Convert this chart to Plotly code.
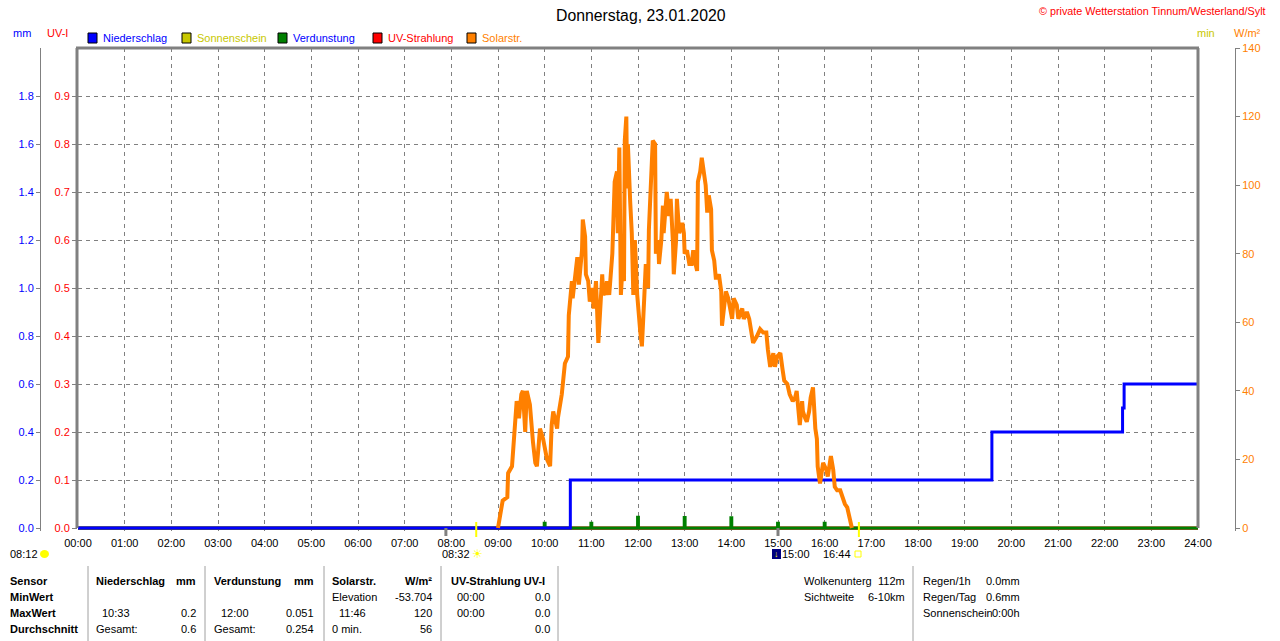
import plotly.graph_objects as go

W, H = 1280, 641
FONT = "Liberation Sans, Arial, sans-serif"

# x axis: minutes since midnight
hour_ticks = list(range(0, 1441, 60))
hour_labels = ["%02d:00" % (m // 60) for m in hour_ticks]

# Solarstrahlung (W/m²)
solar_min = [540, 543, 546, 552, 553, 558, 562, 564, 567, 570, 572, 575, 577, 581, 585, 588,
             590, 594, 598, 603, 607, 609, 611, 616, 617, 622, 626, 630, 631, 634, 635, 636,
             640, 642, 644, 648, 649, 652, 653, 656, 658, 661, 663, 666, 669, 671, 674, 675,
             678, 680, 683, 687, 688, 690, 693, 694, 696, 698, 701, 702, 703, 705, 706, 707,
             710, 712, 714, 716, 719, 720, 723, 725, 726, 728, 730, 733, 734, 737, 738, 739,
             742, 743, 746, 747, 750, 752, 753, 755, 757, 760, 762, 765, 766, 769, 770, 773,
             777, 779, 780, 783, 786, 789, 791, 793, 796, 797, 800, 802, 805, 807, 809, 811,
             814, 815, 818, 820, 822, 824, 827, 828, 831, 833, 836, 838, 841, 843, 847, 849,
             854, 856, 860, 863, 867, 868, 873, 877, 881, 885, 887, 890, 894, 896, 899, 903,
             906, 908, 912, 915, 919, 922, 924, 926, 928, 931, 932, 935, 937, 940, 942, 945,
             946, 948, 950, 951, 954, 957, 958, 962, 964, 968, 971, 973, 976, 980, 984, 986,
             989, 991, 994, 995]
solar_wm2 = [0, 5, 8, 9, 16, 18, 31, 37, 32, 39, 40, 28, 40, 36, 25, 19,
             18, 29, 26, 20, 18, 30, 34, 29, 32, 39, 48, 50, 62, 68, 72, 67,
             74, 79, 71, 81, 90, 85, 74, 72, 66, 70, 64, 72, 54, 63, 74, 69,
             68, 72, 68, 80, 89, 101, 104, 86, 111, 68, 80, 72, 113, 120, 99, 112,
             95, 86, 68, 84, 68, 64, 57, 53, 61, 67, 77, 70, 87, 102, 105, 113,
             112, 80, 84, 77, 84, 94, 86, 91, 98, 91, 96, 83, 74, 84, 96, 86,
             89, 86, 80, 81, 77, 77, 81, 78, 75, 101, 104, 108, 103, 100, 92, 97,
             93, 81, 78, 73, 73, 74, 69, 59, 65, 69, 67, 65, 61, 67, 65, 61,
             64, 61, 63, 61, 55, 54, 56, 58, 57, 57, 52, 47, 51, 47, 50, 51,
             46, 43, 42, 39, 37, 38, 40, 35, 30, 37, 34, 32, 31, 34, 38, 41,
             35, 29, 26, 18, 13, 18, 19, 17, 15, 21, 17, 12, 11, 11, 8, 7,
             6, 4, 1, 0]

# Niederschlag (cumulative, mm)
rain_min = [0, 633, 1175, 1343, 1345, 1440]
rain_mm = [0.0, 0.2, 0.4, 0.5, 0.6, 0.6]

# Verdunstung (mm per hour)
evap_min = [600, 660, 720, 780, 840, 900, 960]
evap_mm = [0.026, 0.026, 0.051, 0.050, 0.049, 0.026, 0.026]

day_min = [0, 1440]
evap_base = [0.0, 0.0]
uv_index = [0.0, 0.0]

sunrise_min, sunset_min = 512, 1004
event_min = [473, 900]

legend_items = [("Niederschlag", "#0000FF", "#0000FF"),
                ("Sonnenschein", "#C8C800", "#C8C800"),
                ("Verdunstung", "#008000", "#0000FF"),
                ("UV-Strahlung", "#FF0000", "#FF0000"),
                ("Solarstr.", "#FF8000", "#FF8000")]
legend_x = [88, 182, 278, 373, 467]

# table below the chart: (x, row, text, anchor, bold)
table_cells = [
    (8, 0, "Sensor", "left", True), (8, 1, "MinWert", "left", True),
    (8, 2, "MaxWert", "left", True), (8, 3, "Durchschnitt", "left", True),
    (94, 0, "Niederschlag", "left", True), (198, 0, "mm", "right", True),
    (100, 2, "10:33", "left", False), (198, 2, "0.2", "right", False),
    (94, 3, "Gesamt:", "left", False), (198, 3, "0.6", "right", False),
    (212, 0, "Verdunstung", "left", True), (316, 0, "mm", "right", True),
    (219, 2, "12:00", "left", False), (316, 2, "0.051", "right", False),
    (212, 3, "Gesamt:", "left", False), (316, 3, "0.254", "right", False),
    (330, 0, "Solarstr.", "left", True), (434, 0, "W/m²", "right", True),
    (330, 1, "Elevation", "left", False), (434, 1, "-53.704", "right", False),
    (337, 2, "11:46", "left", False), (434, 2, "120", "right", False),
    (330, 3, "0 min.", "left", False), (434, 3, "56", "right", False),
    (449, 0, "UV-Strahlung UV-I", "left", True),
    (455, 1, "00:00", "left", False), (552, 1, "0.0", "right", False),
    (455, 2, "00:00", "left", False), (552, 2, "0.0", "right", False),
    (552, 3, "0.0", "right", False),
    (802, 0, "Wolkenunterg", "left", False), (907, 0, "112m", "right", False),
    (802, 1, "Sichtweite", "left", False), (907, 1, "6-10km", "right", False),
    (921, 0, "Regen/1h", "left", False), (1022, 0, "0.0mm", "right", False),
    (921, 1, "Regen/Tag", "left", False), (1022, 1, "0.6mm", "right", False),
    (921, 2, "Sonnenschein", "left", False), (1022, 2, "0:00h", "right", False),
]
table_rows_y = [581, 597, 613, 629]
table_sep_x = [88, 205, 324, 441, 558, 913]


def px(x):
    return x / W


def py(y):
    return 1 - y / H


PLOT_L, PLOT_R, PLOT_T, PLOT_B = 78, 1198, 48, 528
PAD = 2.5  # px below zero so lines at 0 are not clipped
PH = PLOT_B - PLOT_T


def rng(top):
    return [-PAD / PH * top, top]


GRAY = "#808080"
fig = go.Figure()

fig.add_trace(go.Scatter(x=day_min, y=uv_index, yaxis="y", mode="lines",
                         line=dict(color="#FF0000", width=3), hoverinfo="skip"))
fig.add_trace(go.Bar(x=evap_min, y=evap_mm, yaxis="y2", width=5,
                     marker=dict(color="#008000", line=dict(width=0)), hoverinfo="skip"))
fig.add_trace(go.Scatter(x=day_min, y=evap_base, yaxis="y2", mode="lines",
                         line=dict(color="#008000", width=3), hoverinfo="skip"))
fig.add_trace(go.Scatter(x=rain_min, y=rain_mm, yaxis="y2", mode="lines", line_shape="hv",
                         line=dict(color="#0000FF", width=3), hoverinfo="skip"))
fig.add_trace(go.Scatter(x=solar_min, y=solar_wm2, yaxis="y4", mode="lines",
                         line=dict(color="#FF8000", width=4), hoverinfo="skip"))

dom_x = [px(PLOT_L), px(PLOT_R)]
dom_y = [py(PLOT_B + PAD), py(PLOT_T)]
tick_font = dict(family=FONT, size=11)

fig.update_layout(
    width=W, height=H, autosize=False,
    margin=dict(l=0, r=0, t=0, b=0),
    paper_bgcolor="white", plot_bgcolor="white",
    showlegend=False, barmode="overlay",
    font=dict(family=FONT, size=11, color="black"),
    xaxis=dict(domain=dom_x, range=[0, 1440], tickvals=hour_ticks, ticktext=hour_labels,
               showgrid=True, gridcolor=GRAY, griddash="4px,4px", gridwidth=1,
               zeroline=False, showline=False, ticks="outside", ticklen=2,
               tickcolor="rgba(0,0,0,0)", tickfont=dict(tick_font, color="black"),
               automargin=False, fixedrange=True),
    yaxis=dict(domain=dom_y, range=rng(1.0), anchor="x",
               tickvals=[i / 10 for i in range(10)],
               ticktext=["%.1f" % (i / 10) for i in range(10)],
               showgrid=True, gridcolor=GRAY, griddash="4px,4px", gridwidth=1,
               zeroline=False, showline=False, ticks="outside", ticklen=5, tickcolor=GRAY,
               tickfont=dict(tick_font, color="#FF0000"), automargin=False),
    yaxis2=dict(domain=dom_y, range=rng(2.0), overlaying="y", anchor="free",
                position=px(40), side="left",
                tickvals=[i / 5 for i in range(10)],
                ticktext=["%.1f" % (i / 5) for i in range(10)],
                showgrid=False, zeroline=False, showline=True, linecolor=GRAY, linewidth=1,
                ticks="outside", ticklen=4, tickcolor=GRAY,
                tickfont=dict(tick_font, color="#0000FF"), automargin=False),
    yaxis3=dict(domain=dom_y, range=rng(20), overlaying="y", anchor="x", side="right",
                tickvals=[0, 5, 10, 15, 20], showgrid=False, zeroline=False, showline=False,
                ticks="outside", ticklen=5, tickcolor=GRAY,
                tickfont=dict(tick_font, color="#C8C800"), automargin=False),
    yaxis4=dict(domain=dom_y, range=rng(140), overlaying="y", anchor="free",
                position=px(1235), side="right",
                tickvals=list(range(0, 141, 20)), showgrid=False, zeroline=False,
                showline=True, linecolor=GRAY, linewidth=1,
                ticks="outside", ticklen=4, tickcolor=GRAY,
                tickfont=dict(tick_font, color="#FF8000"), automargin=False),
)

shapes = []
# plot frame
shapes.append(dict(type="line", xref="paper", yref="paper", x0=px(PLOT_L - 1), x1=px(PLOT_L - 1),
                   y0=py(PLOT_B), y1=py(PLOT_T), line=dict(color=GRAY, width=3)))
shapes.append(dict(type="line", xref="paper", yref="paper", x0=px(PLOT_L - 2), x1=px(PLOT_R + 1),
                   y0=py(PLOT_T), y1=py(PLOT_T), line=dict(color=GRAY, width=3)))
shapes.append(dict(type="line", xref="paper", yref="paper", x0=px(PLOT_R), x1=px(PLOT_R),
                   y0=py(PLOT_B), y1=py(PLOT_T), line=dict(color=GRAY, width=3)))
shapes.append(dict(type="line", xref="paper", yref="paper", x0=px(PLOT_L), x1=px(PLOT_R),
                   y0=py(PLOT_B + 1), y1=py(PLOT_B + 1), line=dict(color=GRAY, width=2),
                   layer="below"))
# event ticks below the axis
for m in event_min:
    shapes.append(dict(type="line", xref="x", yref="paper", x0=m, x1=m,
                       y0=py(PLOT_B), y1=py(PLOT_B + 8), line=dict(color=GRAY, width=3)))
# sunrise / sunset marks
for m in (sunrise_min, sunset_min):
    shapes.append(dict(type="line", xref="x", yref="paper", x0=m, x1=m,
                       y0=py(PLOT_B - 6), y1=py(PLOT_B + 9), line=dict(color="#FFFF00", width=2)))
# legend squares
for (name, sq, tc), lx in zip(legend_items, legend_x):
    shapes.append(dict(type="rect", xref="paper", yref="paper", x0=px(lx), x1=px(lx + 9),
                       y0=py(43), y1=py(33), fillcolor=sq, line=dict(color="black", width=1)))
# table separators
for sx in table_sep_x:
    shapes.append(dict(type="line", xref="paper", yref="paper", x0=px(sx), x1=px(sx),
                       y0=py(566), y1=py(H), line=dict(color="#A0A0A0", width=1)))
# small icons under the time axis
shapes.append(dict(type="circle", xref="paper", yref="paper", x0=px(40), x1=px(49),
                   y0=py(558), y1=py(550), fillcolor="#FFFF00", line=dict(width=0)))
shapes.append(dict(type="rect", xref="paper", yref="paper", x0=px(772), x1=px(781),
                   y0=py(559), y1=py(549), fillcolor="#000080", line=dict(width=0)))
shapes.append(dict(type="rect", xref="paper", yref="paper", x0=px(855), x1=px(861),
                   y0=py(557), y1=py(551), fillcolor="white", line=dict(color="#FFFF00", width=1)))
fig.update_layout(shapes=shapes)

ann = []


def text(x, y, s, color="black", size=11, anchor="left", bold=False):
    ann.append(dict(xref="paper", yref="paper", x=px(x), y=py(y), text=("<b>%s</b>" % s) if bold else s,
                    showarrow=False, xanchor=anchor, yanchor="middle",
                    font=dict(family=FONT, size=size, color=color)))


text(641, 15, "Donnerstag, 23.01.2020", size=15.8, anchor="center")
text(1268, 11, "© private Wetterstation Tinnum/Westerland/Sylt", color="#FF0000", size=10.8, anchor="right")
text(22, 33, "mm", color="#0000FF", anchor="center")
text(57, 33, "UV-I", color="#FF0000", anchor="center")
text(1206, 33, "min", color="#C8C800", anchor="center")
text(1247, 33, "W/m²", color="#FF8000", anchor="center")
for (name, sq, tc), lx in zip(legend_items, legend_x):
    text(lx + 13, 38, name, color=tc)

text(24, 554, "08:12", anchor="center")
text(456, 554, "08:32", anchor="center")
text(477, 554, "☀", color="#FFFF00", size=12, anchor="center")
text(776, 554, "↓", color="#FFFF00", size=9, anchor="center", bold=True)
text(796, 554, "15:00", anchor="center")
text(837, 554, "16:44", anchor="center")

for x, row, s, anchor, bold in table_cells:
    text(x, table_rows_y[row], s, anchor=anchor, bold=bold)

fig.update_layout(annotations=ann)

fig.write_html("out.html", config={"displayModeBar": False, "staticPlot": True},
               post_script="document.body.style.margin='0';document.body.style.overflow='hidden';")
